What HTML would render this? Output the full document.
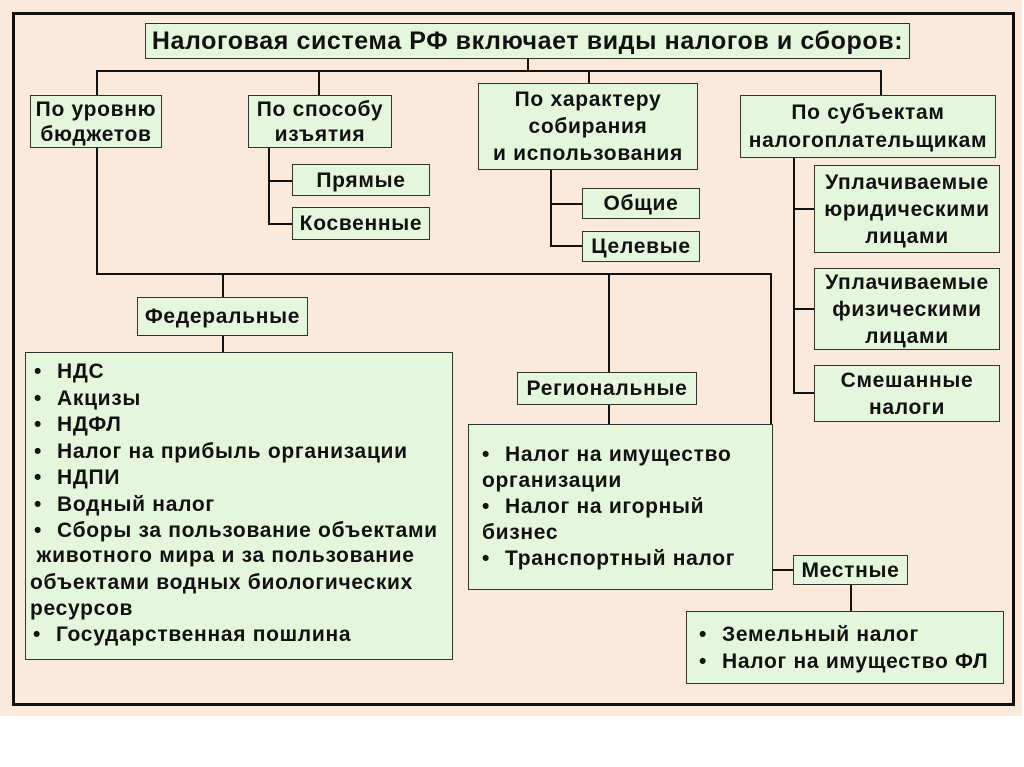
<!DOCTYPE html>
<html><head><meta charset="utf-8"><style>
body{margin:0;width:1024px;height:767px;background:#fff;position:relative;overflow:hidden;font-family:"Liberation Sans",Arial,sans-serif;font-weight:bold;color:#111}
.bg{position:absolute;left:0;top:0;width:1022px;height:716px;background:#fbe9dc}
.frame{position:absolute;left:12px;top:12px;width:997px;height:688px;border:3px solid #111}
.b{position:absolute;background:#e4f7dc;border:1.5px solid #333;box-sizing:border-box;font-size:21px;letter-spacing:.7px;line-height:25px;text-align:center;display:flex;align-items:center;justify-content:center;white-space:nowrap}
.t{position:absolute;font-size:21px;letter-spacing:.7px;white-space:nowrap}
.l{position:absolute;background:#111}
.h{height:2px}.v{width:2px}
ul{margin:0;padding:0;list-style:none;text-align:left}
li{position:relative;padding-left:27px}
li:before{content:"•";position:absolute;left:4px}
</style></head><body>
<div class="bg"></div><div class="frame"></div>
<div class="l h" style="left:96px;top:70px;width:786px"></div>
<div class="l v" style="left:527px;top:58px;height:13px"></div>
<div class="l v" style="left:96px;top:70px;height:25px"></div>
<div class="l v" style="left:318px;top:70px;height:25px"></div>
<div class="l v" style="left:588px;top:70px;height:13px"></div>
<div class="l v" style="left:880px;top:70px;height:25px"></div>
<div class="l v" style="left:268px;top:148px;height:77px"></div>
<div class="l h" style="left:268px;top:180px;width:24px"></div>
<div class="l h" style="left:268px;top:223px;width:24px"></div>
<div class="l v" style="left:550px;top:170px;height:77px"></div>
<div class="l h" style="left:550px;top:203px;width:32px"></div>
<div class="l h" style="left:550px;top:245px;width:32px"></div>
<div class="l v" style="left:793px;top:158px;height:236px"></div>
<div class="l h" style="left:793px;top:208px;width:21px"></div>
<div class="l h" style="left:793px;top:308px;width:21px"></div>
<div class="l h" style="left:793px;top:392px;width:21px"></div>
<div class="l v" style="left:96px;top:148px;height:127px"></div>
<div class="l h" style="left:96px;top:273px;width:676px"></div>
<div class="l v" style="left:770px;top:273px;height:298px"></div>
<div class="l h" style="left:770px;top:569px;width:24px"></div>
<div class="l v" style="left:222px;top:273px;height:80px"></div>
<div class="l v" style="left:608px;top:273px;height:152px"></div>
<div class="l v" style="left:850px;top:584px;height:28px"></div>
<div class="b" style="left:145px;top:23px;width:765px;height:36px;font-size:25px;letter-spacing:.6px">Налоговая система РФ включает виды налогов и сборов:</div>
<div class="b" style="left:30px;top:95px;width:132px;height:53px">По уровню<br>бюджетов</div>
<div class="b" style="left:248px;top:95px;width:144px;height:53px">По способу<br>изъятия</div>
<div class="b" style="left:478px;top:83px;width:220px;height:87px;line-height:27px">По характеру<br>собирания<br>и использования</div>
<div class="b" style="left:740px;top:95px;width:256px;height:63px;line-height:28px">По субъектам<br>налогоплательщикам</div>
<div class="b" style="left:292px;top:164px;width:138px;height:32px">Прямые</div>
<div class="b" style="left:292px;top:207px;width:138px;height:33px">Косвенные</div>
<div class="b" style="left:582px;top:188px;width:118px;height:31px">Общие</div>
<div class="b" style="left:582px;top:231px;width:118px;height:31px">Целевые</div>
<div class="b" style="left:814px;top:165px;width:186px;height:88px;line-height:27px">Уплачиваемые<br>юридическими<br>лицами</div>
<div class="b" style="left:814px;top:268px;width:186px;height:82px;line-height:27px">Уплачиваемые<br>физическими<br>лицами</div>
<div class="b" style="left:814px;top:365px;width:186px;height:57px;line-height:27px">Смешанные<br>налоги</div>
<div class="b" style="left:137px;top:297px;width:171px;height:39px">Федеральные</div>
<div class="b" style="left:25px;top:352px;width:428px;height:308px;justify-content:flex-start;align-items:flex-start;padding:6px 0 0 4px;line-height:26.5px"><ul>
<li>НДС</li><li>Акцизы</li><li>НДФЛ</li><li>Налог на прибыль организации</li><li>НДПИ</li><li>Водный налог</li><li>Сборы за пользование объектами</li></ul></div>
<div class="t" style="left:30px;top:543px;line-height:26.5px">&nbsp;животного мира и за пользование<br>объектами водных биологических<br>ресурсов</div>
<div class="t" style="left:29px;top:622px;line-height:26.5px"><ul><li>Государственная пошлина</li></ul></div>
<div class="b" style="left:517px;top:372px;width:180px;height:33px">Региональные</div>
<div class="b" style="left:468px;top:424px;width:305px;height:166px"></div>
<div class="t" style="left:478px;top:442px;line-height:26px"><ul><li>Налог на имущество</li></ul></div>
<div class="t" style="left:482px;top:468px;line-height:26px">организации</div>
<div class="t" style="left:478px;top:494px;line-height:26px"><ul><li>Налог на игорный</li></ul></div>
<div class="t" style="left:482px;top:520px;line-height:26px">бизнес</div>
<div class="t" style="left:478px;top:546px;line-height:26px"><ul><li>Транспортный налог</li></ul></div>
<div class="b" style="left:793px;top:555px;width:115px;height:30px">Местные</div>
<div class="b" style="left:686px;top:611px;width:318px;height:73px;justify-content:flex-start;padding-left:8px;line-height:27px"><ul><li>Земельный налог</li><li>Налог на имущество ФЛ</li></ul></div>
</body></html>
